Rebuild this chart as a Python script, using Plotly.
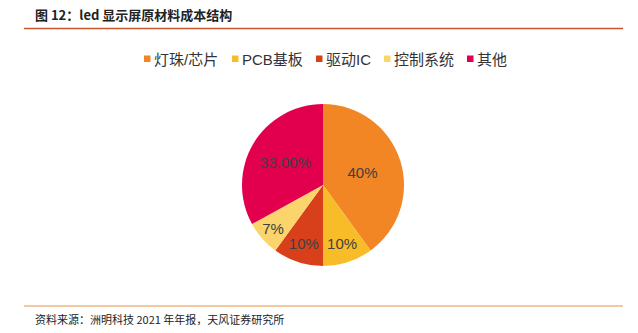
import plotly.graph_objects as go

categories = ["灯珠/芯片", "PCB基板", "驱动IC", "控制系统", "其他"]
values = [40, 10, 10, 7, 33]
value_labels = ["40%", "10%", "10%", "7%", "33.00%"]
colors = ["#F28524", "#F8BC28", "#D8401B", "#FBD46B", "#E2004E"]

title_text = "图 12：led 显示屏原材料成本结构"
source_text = "资料来源：洲明科技 2021 年年报，天风证券研究所"

W, H = 638, 333
FONT = "Liberation Sans, Arial, Noto Sans CJK SC, sans-serif"
CJK = "Noto Sans CJK SC, sans-serif"

cx, cy, r = 323, 185, 81

fig = go.Figure()
fig.add_trace(go.Pie(
    labels=categories,
    values=values,
    text=value_labels,
    textinfo="text",
    texttemplate="%{text}",
    textposition="inside",
    insidetextorientation="horizontal",
    textfont=dict(family=FONT, size=15, color="#404040"),
    marker=dict(colors=colors, line=dict(width=0)),
    sort=False,
    direction="clockwise",
    rotation=0,
    hole=0,
    showlegend=False,
    domain=dict(x=[(cx - r) / W, (cx + r) / W], y=[1 - (cy + r) / H, 1 - (cy - r) / H]),
))

shapes = [
    dict(type="line", xref="paper", yref="paper", x0=24 / W, x1=623 / W,
         y0=1 - 28.5 / H, y1=1 - 28.5 / H, line=dict(color="#C9562C", width=1.5)),
    dict(type="line", xref="paper", yref="paper", x0=24 / W, x1=623 / W,
         y0=1 - 306 / H, y1=1 - 306 / H, line=dict(color="#EBB683", width=1.5)),
]
annotations = [
    dict(text="<b>" + title_text + "</b>", xref="paper", yref="paper", x=33 / W, y=1 - 15 / H,
         xanchor="left", yanchor="middle", showarrow=False,
         font=dict(family=CJK, size=13, color="#222222")),
    dict(text=source_text, xref="paper", yref="paper", x=33 / W, y=1 - 319 / H,
         xanchor="left", yanchor="middle", showarrow=False,
         font=dict(family=CJK, size=11, color="#222222")),
]

legend_x = [144, 232, 316, 384, 467]
for lx, name, col in zip(legend_x, categories, colors):
    shapes.append(dict(type="rect", xref="paper", yref="paper",
                       x0=lx / W, x1=(lx + 6.5) / W, y0=1 - 62 / H, y1=1 - 55.5 / H,
                       fillcolor=col, line=dict(width=0)))
    annotations.append(dict(text=name, xref="paper", yref="paper", x=(lx + 8) / W, y=1 - 59 / H,
                            xanchor="left", yanchor="middle", showarrow=False,
                            font=dict(family=FONT, size=15, color="#333333")))

fig.update_layout(
    width=W, height=H,
    margin=dict(l=0, r=0, t=0, b=0),
    paper_bgcolor="white", plot_bgcolor="white",
    shapes=shapes, annotations=annotations,
)

fig.write_html("out.html")
